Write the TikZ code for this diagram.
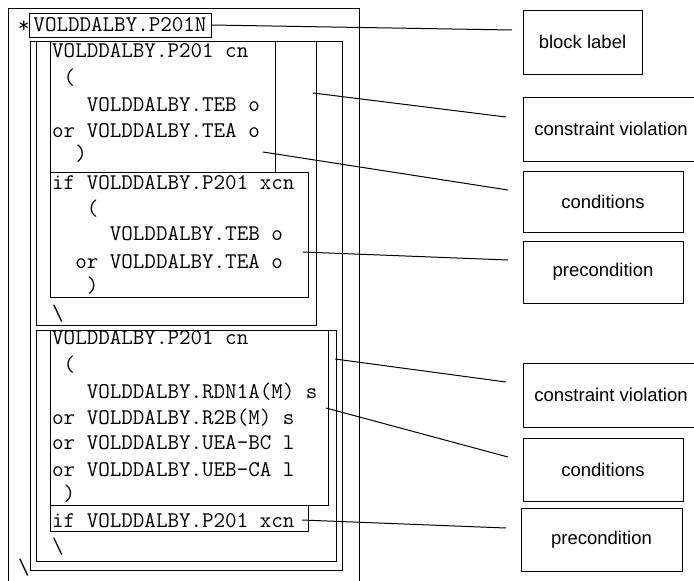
\documentclass[tikz,border=0pt]{standalone}
\usepackage{fontspec}
\setmainfont{Liberation Sans}
\tikzset{
  frame/.style={draw, line width=1pt},
  codefont/.style={font=\ttfamily\fontsize{22.4}{26}\selectfont},
  code/.style={codefont, anchor=base west, inner sep=0pt},
  tag/.style={draw, line width=1pt, font=\fontsize{18.5}{22}\selectfont, inner sep=0pt},
  leader/.style={line width=1pt},
}
\begin{document}
\begin{tikzpicture}[x=1pt, y=-1pt]
  \useasboundingbox (0,0) rectangle (694,581);
  \clip (0,0) rectangle (694,581);

  % nested block frames
  \draw[frame] (8,8) rectangle (359,600);
  \draw[frame] (30,41) rectangle (342,570);
  \draw[frame] (36,41) rectangle (316,325);
  \draw[frame] (50,41) rectangle (275,172);
  \draw[frame] (50,172) rectangle (308,297);
  \draw[frame] (36,330) rectangle (336,561);
  \draw[frame] (50,330) rectangle (328,505);
  \draw[frame] (50,505) rectangle (308,531);

  % block label
  \node[code] (star) at (18,32) {*};
  \node[draw, line width=1pt, codefont, inner sep=0pt,
        minimum width=182pt, minimum height=24pt] (blk) at (120,25) {VOLDDALBY.P201N};

  % first constraint
  \node[code] (a1) at (52,57)  {VOLDDALBY.P201 cn};
  \node[code] (a2) at (52,84)  {\ (};
  \node[code] (a3) at (52,111) {\ \ \ VOLDDALBY.TEB o};
  \node[code] (a4) at (52,137) {or VOLDDALBY.TEA o};
  \node[code] (a5) at (52,160) {\ \ )};
  \node[code] (b1) at (52,189) {if VOLDDALBY.P201 xcn};
  \node[code] (b2) at (52,215) {\ \ \ (};
  \node[code] (b3) at (52,240) {\ \ \ \ \ VOLDDALBY.TEB o};
  \node[code] (b4) at (52,268) {\ \ or VOLDDALBY.TEA o};
  \node[code] (b5) at (52,292) {\ \ \ )};
  \node[code] (b6) at (52,320) {\textbackslash};

  % second constraint
  \node[code] (c1) at (52,344) {VOLDDALBY.P201 cn};
  \node[code] (c2) at (52,371) {\ (};
  \node[code] (c3) at (52,398) {\ \ \ VOLDDALBY.RDN1A(M) s};
  \node[code] (c4) at (52,424) {or VOLDDALBY.R2B(M) s};
  \node[code] (c5) at (52,449) {or VOLDDALBY.UEA-BC l};
  \node[code] (c6) at (52,476) {or VOLDDALBY.UEB-CA l};
  \node[code] (c7) at (52,500) {\ )};
  \node[code] (d1) at (52,527) {if VOLDDALBY.P201 xcn};
  \node[code] (d2) at (52,553) {\textbackslash};
  \node[code] (d3) at (18,574) {\textbackslash};

  % legend boxes
  \node[tag, minimum width=119pt, minimum height=64pt] (lblA) at (582.5,42)  {block label};
  \node[tag, minimum width=176pt, minimum height=64pt] (lblB) at (611,129)   {constraint violation};
  \node[tag, minimum width=160pt, minimum height=61pt] (lblC) at (603,201.5) {conditions};
  \node[tag, minimum width=160pt, minimum height=62pt] (lblD) at (603,272)   {precondition};
  \node[tag, minimum width=176pt, minimum height=64pt] (lblE) at (611,395)   {constraint violation};
  \node[tag, minimum width=160pt, minimum height=63pt] (lblF) at (603,469.5) {conditions};
  \node[tag, minimum width=161pt, minimum height=63pt] (lblG) at (601.5,539.5) {precondition};

  % leader line ends
  \coordinate (e1) at (512,30);
  \coordinate (s2) at (313,93);  \coordinate (e2) at (506,117);
  \coordinate (s3) at (263,152); \coordinate (e3) at (508,190);
  \coordinate (s4) at (303,252); \coordinate (e4) at (508,260);
  \coordinate (s5) at (335,359); \coordinate (e5) at (506,382);
  \coordinate (s6) at (326,408); \coordinate (e6) at (508,457);
  \coordinate (s7) at (302,520); \coordinate (e7) at (506,528);

  % leader lines
  \draw[leader] (blk.east) -- (e1);
  \draw[leader] (s2) -- (e2);
  \draw[leader] (s3) -- (e3);
  \draw[leader] (s4) -- (e4);
  \draw[leader] (s5) -- (e5);
  \draw[leader] (s6) -- (e6);
  \draw[leader] (s7) -- (e7);
\end{tikzpicture}
\end{document}
